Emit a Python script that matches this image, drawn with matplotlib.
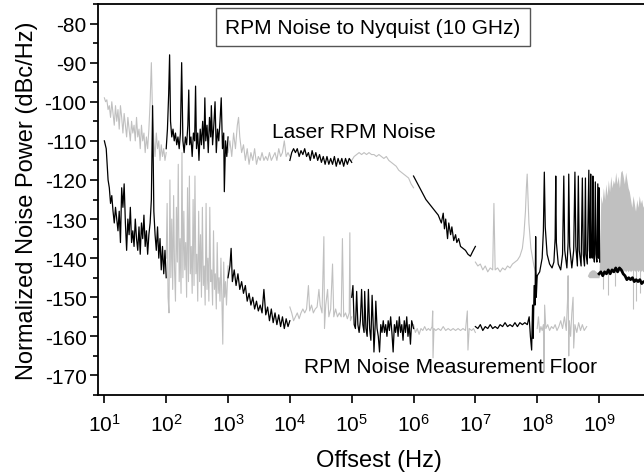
import matplotlib.pyplot as plt
import numpy as np

plt.rcParams['font.family'] = ['Liberation Sans', 'DejaVu Sans']
plt.rcParams['axes.unicode_minus'] = False
GRAY = '#c0c0c0'

# all traces: log10(offset / Hz) and noise power in dBc/Hz, one pair per measurement span

# laser RPM noise
laser1_logf = [1.00, 1.02, 1.04, 1.06, 1.08, 1.10, 1.12, 1.14, 1.16, 1.18, 1.20, 1.22, 1.24, 1.26,
               1.28, 1.30, 1.32, 1.34, 1.36, 1.38, 1.40, 1.42, 1.44, 1.46, 1.48, 1.50, 1.52, 1.54,
               1.56, 1.58, 1.60, 1.62, 1.64, 1.66, 1.68, 1.70, 1.72, 1.74, 1.76, 1.78, 1.80, 1.82,
               1.84, 1.86, 1.88, 1.90, 1.92, 1.94, 1.96, 1.98, 2.00]
laser1_db = [-99, -100, -99.5, -102, -101, -104, -100, -103, -106, -101, -105, -102, -107, -101,
             -104, -108, -103, -106, -109, -104, -107, -110, -105, -108, -106, -110, -104, -109,
             -107, -112, -106, -110, -108, -113, -109, -112, -107, -100, -90, -104, -110, -114,
             -108, -112, -110, -115, -111, -114, -112, -115, -113]

laser2_logf = [2.00, 2.02, 2.04, 2.055, 2.07, 2.09, 2.11, 2.13, 2.15, 2.17, 2.19, 2.21, 2.23, 2.25,
               2.27, 2.29, 2.31, 2.33, 2.35, 2.365, 2.38, 2.40, 2.42, 2.44, 2.46, 2.475, 2.49,
               2.51, 2.53, 2.55, 2.57, 2.59, 2.61, 2.625, 2.64, 2.66, 2.68, 2.70, 2.72, 2.73,
               2.75, 2.77, 2.79, 2.81, 2.83, 2.85, 2.87, 2.89, 2.91, 2.93, 2.94, 2.96, 2.98, 3.00]
laser2_db = [-112, -107, -98, -88, -105, -109, -107, -110, -108, -111, -109, -112, -108, -90,
             -110, -113, -109, -111, -106, -97, -111, -109, -114, -108, -110, -96, -112,
             -108, -115, -107, -111, -105, -112, -99, -110, -106, -113, -104, -109, -101,
             -111, -106, -100, -113, -107, -110, -105, -99, -112, -108, -123, -110, -114, -109]

laser3_logf = [3.00, 3.03, 3.06, 3.09, 3.12, 3.15, 3.17, 3.19, 3.22, 3.25, 3.28, 3.31, 3.34, 3.37,
               3.40, 3.43, 3.46, 3.49, 3.52, 3.55, 3.58, 3.61, 3.64, 3.67, 3.70, 3.73, 3.76, 3.79,
               3.82, 3.85, 3.88, 3.91, 3.94, 3.97, 4.00]
laser3_db = [-113, -110, -114, -108, -112, -106, -104, -109, -113, -111, -115, -112, -116, -113,
             -115, -112, -116, -114, -115, -113, -115, -114, -115, -113, -115, -114, -113, -115,
             -112, -114, -113, -110, -114, -113, -114]

laser4_logf = [4.00, 4.03, 4.06, 4.09, 4.12, 4.15, 4.18, 4.21, 4.24, 4.27, 4.30, 4.33, 4.36, 4.39,
               4.42, 4.45, 4.48, 4.51, 4.54, 4.57, 4.60, 4.63, 4.66, 4.69, 4.72, 4.75, 4.78, 4.81,
               4.84, 4.87, 4.90, 4.93, 4.96, 5.00]
laser4_db = [-115, -113, -112, -113, -112, -114, -112.5, -113.5, -112, -114, -113, -115, -112.5,
             -114.5, -113, -115, -113.5, -115.5, -114, -116, -114, -116, -114.5, -116, -114,
             -116.5, -114.5, -116, -114.5, -116.5, -114.5, -116, -114.5, -115.5]

laser5_logf = [5.00, 5.04, 5.08, 5.12, 5.16, 5.20, 5.24, 5.28, 5.32, 5.36, 5.40, 5.44, 5.48, 5.52,
               5.56, 5.60, 5.64, 5.68, 5.72, 5.76, 5.80, 5.84, 5.88, 5.92, 5.96, 6.00]
laser5_db = [-115, -114, -113.5, -113, -113.5, -113, -113.5, -113, -113.5, -113.5, -114, -113.5,
             -114, -114.5, -114, -115, -115.5, -116, -116.5, -117.5, -118, -118.5, -119, -119.5,
             -121, -122]

laser6_logf = [6.00, 6.05, 6.10, 6.15, 6.20, 6.25, 6.30, 6.35, 6.40, 6.45, 6.48, 6.50, 6.52, 6.55,
               6.57, 6.60, 6.62, 6.65, 6.68, 6.70, 6.73, 6.76, 6.80, 6.84, 6.88, 6.92, 6.95, 7.00]
laser6_db = [-119, -120.5, -122, -123.5, -125, -126, -127, -128, -129, -131, -128.5, -132.5, -130,
             -135, -131, -134, -132, -135.5, -134, -136, -135, -137, -137.5, -138, -139, -139.5,
             -138.5, -137]

laser7_logf = [7.00, 7.04, 7.08, 7.12, 7.16, 7.20, 7.24, 7.28, 7.30, 7.32, 7.36, 7.40, 7.44, 7.48,
               7.52, 7.56, 7.60, 7.64, 7.68, 7.72, 7.76, 7.785, 7.81, 7.825, 7.838, 7.85, 7.866,
               7.898, 7.947, 8.00]
laser7_db = [-141, -142, -141.5, -143, -142, -143.5, -142.5, -143, -126, -143, -142.5, -143.5,
             -142.5, -143, -142, -142.5, -141.5, -141, -140.5, -139.5, -137.5, -134, -128, -122,
             -118.5, -124, -131, -137.5, -142, -145]

laser8_logf = [8.00, 8.04, 8.08, 8.10, 8.115, 8.13, 8.16, 8.20, 8.24, 8.27, 8.29, 8.30, 8.31, 8.34,
               8.38, 8.41, 8.43, 8.445, 8.48, 8.50, 8.51, 8.525, 8.56, 8.59, 8.61, 8.625, 8.65,
               8.665, 8.68, 8.71, 8.73, 8.745, 8.765, 8.78, 8.79, 8.81, 8.835, 8.845, 8.855,
               8.865, 8.875, 8.89, 8.90, 8.91, 8.925, 8.94, 8.95, 8.965, 8.98, 8.99, 9.00, 9.01]
laser8_db = [-144.5, -143.5, -140, -133, -118, -132, -139, -141.5, -142.5, -141, -135, -119, -136,
             -141.5, -143, -139, -119, -138, -142.5, -136, -118.5, -137, -142.5, -138, -118, -137,
             -142, -119, -138, -142, -119.5, -139, -142, -119.5, -139, -141.5, -117.5, -138, -140,
             -118.5, -139, -140, -119, -139, -141, -120.5, -139, -141, -121, -140, -122, -141]

# dense gray spectrum above 1 GHz: upper and lower edge
block_logf = [8.81, 8.84, 8.88, 8.92, 8.96, 9.00, 9.02, 9.03, 9.05, 9.07, 9.09, 9.11, 9.13, 9.15,
              9.17, 9.19, 9.21, 9.23, 9.25, 9.27, 9.29, 9.31, 9.33, 9.35, 9.37, 9.39, 9.41, 9.43,
              9.45, 9.47, 9.49, 9.51, 9.53, 9.55, 9.57, 9.59, 9.61, 9.63, 9.65, 9.67, 9.69, 9.71,
              9.73, 9.76]
block_top = [-144.5, -143.5, -143, -143, -143.5, -144, -130, -124, -126, -122, -125, -121, -124,
             -120, -123, -119, -122, -120, -121, -118, -121, -119, -122, -118, -117.5, -119, -121,
             -118, -120, -122, -123, -125, -127, -124, -126, -128, -125, -127, -124, -126, -125,
             -127, -126, -126]
block_bottom = [-144.5, -145, -145, -145, -145, -145, -143, -143.5, -143, -143.5, -143, -143.5,
                -143, -143.5, -143, -143.5, -143, -143.5, -143, -143.5, -143, -143.5, -143, -143.5,
                -143, -143.5, -143, -143.5, -143, -143.5, -143, -143.5, -143, -143.5, -143, -143.5,
                -143, -143.5, -143, -143.5, -143, -143.5, -143, -143]
drop_logf = [9.07, 9.15, 9.26, 9.55, 9.60, 9.66]
drop_db = [-148, -149.5, -147, -153, -151, -149]

# measurement floor
floor1_logf = [1.00, 1.03, 1.06, 1.08, 1.10, 1.12, 1.14, 1.16, 1.18, 1.20, 1.22, 1.24, 1.26, 1.28,
               1.30, 1.32, 1.34, 1.36, 1.38, 1.40, 1.42, 1.44, 1.46, 1.48, 1.50, 1.52, 1.54, 1.56,
               1.58, 1.60, 1.62, 1.64, 1.66, 1.68, 1.70, 1.72, 1.74, 1.76, 1.78, 1.80, 1.82, 1.84,
               1.86, 1.88, 1.90, 1.92, 1.94, 1.96, 1.98, 2.00]
floor1_db = [-110, -112, -120, -122, -126, -124, -128, -131, -127, -130, -133, -128, -136, -122,
             -127, -121, -131, -138, -130, -134, -127, -136, -133, -137, -130, -135, -138, -132,
             -139, -131, -135, -129, -137, -133, -139, -134, -131, -125, -101, -128, -134, -138,
             -132, -140, -135, -143, -137, -144, -138, -145]

floor2_logf = [2.00, 2.015, 2.03, 2.045, 2.06, 2.075, 2.09, 2.105, 2.12, 2.135,
               2.15, 2.165, 2.18, 2.195, 2.21, 2.225, 2.24, 2.255, 2.27, 2.285,
               2.30, 2.315, 2.33, 2.345, 2.36, 2.375, 2.39, 2.405, 2.42, 2.435,
               2.45, 2.465, 2.48, 2.495, 2.51, 2.525, 2.54, 2.555, 2.57, 2.585,
               2.60, 2.615, 2.63, 2.645, 2.66, 2.675, 2.69, 2.705, 2.72, 2.735,
               2.75, 2.765, 2.78, 2.795, 2.81, 2.825, 2.84, 2.855, 2.87, 2.885,
               2.90, 2.915, 2.93, 2.945, 2.96, 2.975, 3.00]
floor2_db = [-140, -126, -150, -154, -120, -145, -130, -148, -124, -143,
             -151, -127, -141, -116, -146, -135, -149, -113, -145, -128,
             -143, -136, -150, -122, -146, -119, -144, -137, -149, -125,
             -147, -119, -144, -139, -151, -128, -146, -134, -150, -127,
             -147, -142, -152, -126, -148, -140, -151, -127, -146, -143,
             -152, -133, -148, -144, -153, -136, -149, -145, -151, -140,
             -150, -162, -141, -150, -146, -152, -142]

floor3_logf = [3.00, 3.03, 3.05, 3.07, 3.10, 3.13, 3.16, 3.19, 3.22, 3.25, 3.28, 3.31, 3.34, 3.37,
               3.40, 3.43, 3.46, 3.49, 3.52, 3.55, 3.58, 3.61, 3.64, 3.67, 3.70, 3.73, 3.76, 3.79,
               3.82, 3.85, 3.88, 3.91, 3.94, 3.97, 4.00]
floor3_db = [-145, -142, -137.5, -146, -143, -147, -144, -148, -146, -149, -147, -151, -149, -152,
             -150, -153, -151, -153.5, -152, -154, -148, -154.5, -152.5, -156, -153, -156.5, -154,
             -157, -154.5, -157.5, -155, -158, -155.5, -157.5, -156]

floor4_logf = [4.00, 4.03, 4.06, 4.09, 4.12, 4.15, 4.18, 4.21, 4.24, 4.27, 4.30, 4.32, 4.35, 4.38,
               4.41, 4.44, 4.47, 4.49, 4.52, 4.55, 4.56, 4.58, 4.61, 4.63, 4.66, 4.69, 4.71, 4.74,
               4.77, 4.80, 4.83, 4.85, 4.87, 4.90, 4.93, 4.96, 4.97, 4.98, 5.00]
floor4_db = [-152.5, -154, -156, -155, -154, -155.5, -154, -153, -154, -153, -147, -153.5, -152,
             -154, -153, -152.5, -148, -152, -154, -134.5, -158, -152, -148, -155, -153, -141.5,
             -155, -153, -155, -154, -155, -135, -155, -154, -155.5, -154, -133.5, -156, -155]

floor5_logf = [5.00, 5.02, 5.04, 5.06, 5.08, 5.10, 5.12, 5.14, 5.16, 5.18, 5.20, 5.21, 5.23, 5.25,
               5.27, 5.29, 5.31, 5.33, 5.35, 5.36, 5.38, 5.39, 5.41, 5.43, 5.45, 5.47, 5.49, 5.51,
               5.53, 5.55, 5.57, 5.59, 5.61, 5.63, 5.65, 5.67, 5.69, 5.71, 5.73, 5.75, 5.77, 5.79,
               5.81, 5.83, 5.85, 5.87, 5.89, 5.91, 5.93, 5.95, 5.97, 6.00]
floor5_db = [-150, -147, -157, -158, -148.5, -157, -159, -156, -148, -157, -159, -148.5, -158, -160,
             -148, -158, -161, -149.5, -158, -164, -157, -151, -158, -160, -164, -157, -159, -156,
             -159, -157, -160, -156, -158.5, -155, -159, -164, -157, -159, -156, -160, -155, -159,
             -157, -161, -156, -159, -155, -160, -157, -162, -156, -158]

floor6_logf = [6.00, 6.03, 6.06, 6.09, 6.12, 6.15, 6.18, 6.21, 6.24, 6.27, 6.30, 6.31, 6.315, 6.33,
               6.36, 6.40, 6.44, 6.48, 6.52, 6.56, 6.60, 6.64, 6.68, 6.72, 6.76, 6.80, 6.84, 6.87,
               6.88, 6.90, 6.94, 6.97, 7.00]
floor6_db = [-157, -159, -158, -159.5, -158, -158.5, -157.5, -158.5, -158, -158.5, -157.5, -153.5,
             -165.5, -158, -158.5, -158, -158.5, -157.5, -158.5, -158, -158.5, -158, -158.5, -158,
             -158.5, -158, -158.5, -153.5, -163.5, -158, -158.5, -158, -159]

floor7_logf = [7.00, 7.04, 7.08, 7.12, 7.16, 7.20, 7.24, 7.28, 7.32, 7.36, 7.40, 7.44, 7.48, 7.52,
               7.56, 7.60, 7.64, 7.68, 7.72, 7.76, 7.80, 7.84, 7.87, 7.89, 7.91, 7.925, 7.935,
               7.95, 7.965, 7.975, 7.985, 8.00]
floor7_db = [-157.5, -158, -157, -158.5, -157.5, -158, -157, -158, -157.5, -158, -157, -157.5,
             -156.5, -157.5, -157, -157.5, -156.5, -157.5, -156.5, -157, -156.5, -157, -155, -160,
             -163.5, -152, -160.5, -147, -152, -134.5, -150, -144.5]

floor8_logf = [8.00, 8.02, 8.04, 8.06, 8.08, 8.10, 8.11, 8.12, 8.14, 8.17, 8.20, 8.23, 8.26, 8.29,
               8.32, 8.35, 8.38, 8.41, 8.44, 8.47, 8.49, 8.50, 8.51, 8.52, 8.54, 8.56, 8.58, 8.59,
               8.61, 8.64, 8.67, 8.70, 8.73, 8.76, 8.80]
floor8_db = [-158, -155, -159, -157.5, -158.5, -157, -169, -152, -158, -157, -158.5, -157.5, -158,
             -157, -158.5, -157.5, -156, -158, -155, -158.5, -151, -144.5, -165, -156, -160, -154,
             -150, -163, -157, -159, -156.5, -158.5, -157, -158.5, -157.5]

floor9_logf = [9.00, 9.03, 9.06, 9.09, 9.12, 9.15, 9.18, 9.21, 9.24, 9.27, 9.30, 9.33, 9.36, 9.39,
               9.42, 9.45, 9.48, 9.51, 9.54, 9.57, 9.60, 9.63, 9.66, 9.69, 9.72, 9.76]
floor9_db = [-144, -143.5, -144.5, -143.5, -144, -143, -144, -143, -143.5, -142.5, -143.5, -142.5,
             -143, -144, -144.5, -145.5, -145, -145.5, -145, -146, -145.5, -146, -145.5, -146.5,
             -146, -146]

gray_traces = [(laser1_logf, laser1_db), (laser3_logf, laser3_db), (laser5_logf, laser5_db),
               (laser7_logf, laser7_db), (floor2_logf, floor2_db), (floor4_logf, floor4_db),
               (floor6_logf, floor6_db), (floor8_logf, floor8_db)]
black_traces = [(laser2_logf, laser2_db), (laser4_logf, laser4_db), (laser6_logf, laser6_db),
                (laser8_logf, laser8_db), (floor1_logf, floor1_db), (floor3_logf, floor3_db),
                (floor5_logf, floor5_db), (floor7_logf, floor7_db)]

fig = plt.figure(figsize=(6.44, 4.77), dpi=100)
ax = fig.add_axes([0.1517, 0.1698, 0.8745, 0.8197])

bf = 10 ** np.array(block_logf)
ax.fill_between(bf, block_bottom, block_top, color=GRAY, lw=0)
ax.vlines(10 ** np.array(drop_logf), drop_db, -143, color=GRAY, lw=0.8)

for lf, db in gray_traces:
    ax.plot(10 ** np.array(lf), db, color=GRAY, lw=0.8)
for lf, db in black_traces:
    ax.plot(10 ** np.array(lf), db, color='black', lw=0.9)
ax.plot(10 ** np.array(floor9_logf), floor9_db, color='black', lw=2)

ax.set_xscale('log')
ax.set_xlim(7.8, 1e10)
ax.set_ylim(-175, -75)
ax.set_yticks(np.arange(-170, -79, 10))
ax.set_yticks(np.arange(-175, -74, 5), minor=True)
ax.set_xticks([1e1, 1e2, 1e3, 1e4, 1e5, 1e6, 1e7, 1e8, 1e9])

for s in ax.spines.values():
    s.set_linewidth(1.3)
ax.tick_params(axis='y', which='major', length=6, width=1.2, labelsize=15, pad=2)
ax.tick_params(axis='y', which='minor', length=3.5, width=1.2)
ax.tick_params(axis='x', which='major', length=6, width=1.2, labelsize=15, pad=7)
ax.tick_params(axis='x', which='minor', length=3, width=1.0)

ax.set_xlabel('Offsest (Hz)', fontsize=17, labelpad=10)
ax.set_ylabel('Normalized Noise Power (dBc/Hz)', fontsize=17, labelpad=5)

fig.text(0.579, 0.941, 'RPM Noise to Nyquist (10 GHz)', fontsize=15, ha='center', va='center',
         bbox=dict(boxstyle='square,pad=0.45', fc='white', ec='#555555', lw=1))
fig.text(0.5497, 0.7212, 'Laser RPM Noise', fontsize=15, ha='center', va='center')
fig.text(0.6988, 0.2306, 'RPM Noise Measurement Floor', fontsize=15, ha='center', va='center')

fig.savefig('out.png', dpi=100)
